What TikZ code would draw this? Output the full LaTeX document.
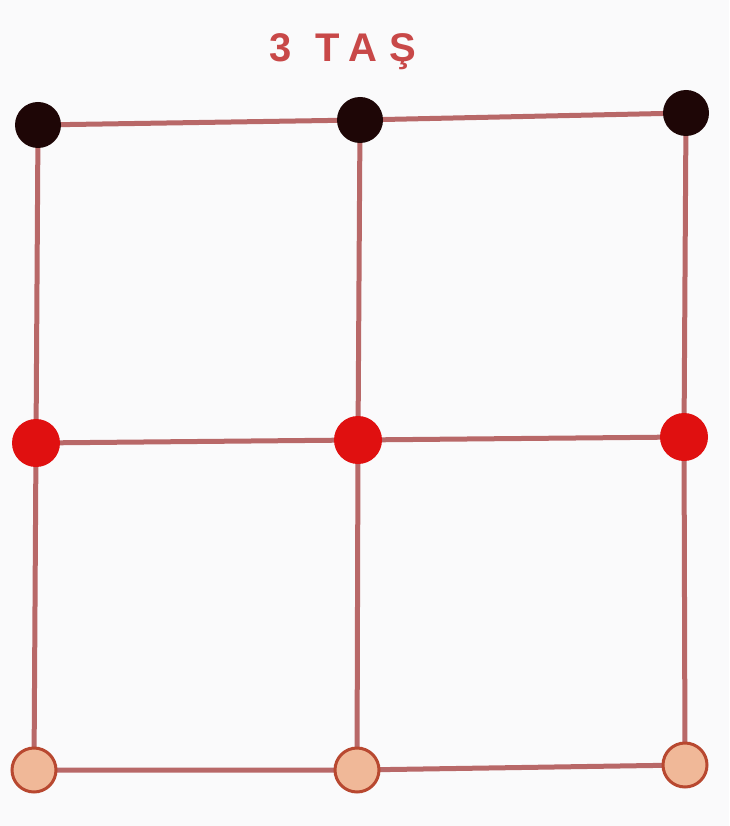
\documentclass[tikz,border=0pt]{standalone}
\usepackage{fontspec}
\setmainfont{Liberation Sans}
\definecolor{gridline}{HTML}{B86868}
\definecolor{titlered}{HTML}{C84848}
\definecolor{darkdot}{HTML}{1E0606}
\definecolor{reddot}{HTML}{E01010}
\definecolor{peach}{HTML}{F0B898}
\definecolor{peachrim}{HTML}{B84830}
\definecolor{bgc}{HTML}{FAFAFB}
\begin{document}
\begin{tikzpicture}[x=1pt,y=-1pt,
  gridedge/.style={draw=gridline,line width=5pt},
  blackstone/.style={circle,fill=darkdot,minimum size=46pt,inner sep=0pt},
  redstone/.style={circle,fill=reddot,minimum size=48pt,inner sep=0pt},
  lightstone/.style={circle,fill=peach,draw=peachrim,line width=3pt,minimum size=44pt,inner sep=0pt}]
\fill[bgc] (0,0) rectangle (729,826);
\useasboundingbox (0,0) rectangle (729,826);
\node[text=titlered,font=\bfseries\fontsize{40}{44}\selectfont\addfontfeature{LetterSpace=30}] (title) at (343,52) {3 TAŞ};
\coordinate (a1) at (38,125);
\coordinate (a2) at (360,120);
\coordinate (a3) at (686,113);
\coordinate (b1) at (36,443);
\coordinate (b2) at (358,440);
\coordinate (b3) at (684,437);
\coordinate (c1) at (34,770);
\coordinate (c2) at (357,770);
\coordinate (c3) at (685,765);
\draw[gridedge] (a1) -- (a2) -- (a3);
\draw[gridedge] (b1) -- (b2) -- (b3);
\draw[gridedge] (c1) -- (c2) -- (c3);
\draw[gridedge] (a1) -- (b1) -- (c1);
\draw[gridedge] (a2) -- (b2) -- (c2);
\draw[gridedge] (a3) -- (b3) -- (c3);
\node[blackstone] (s1) at (a1) {};
\node[blackstone] (s2) at (a2) {};
\node[blackstone] (s3) at (a3) {};
\node[redstone] (r1) at (b1) {};
\node[redstone] (r2) at (b2) {};
\node[redstone] (r3) at (b3) {};
\node[lightstone] (l1) at (c1) {};
\node[lightstone] (l2) at (c2) {};
\node[lightstone] (l3) at (c3) {};
\end{tikzpicture}
\end{document}
